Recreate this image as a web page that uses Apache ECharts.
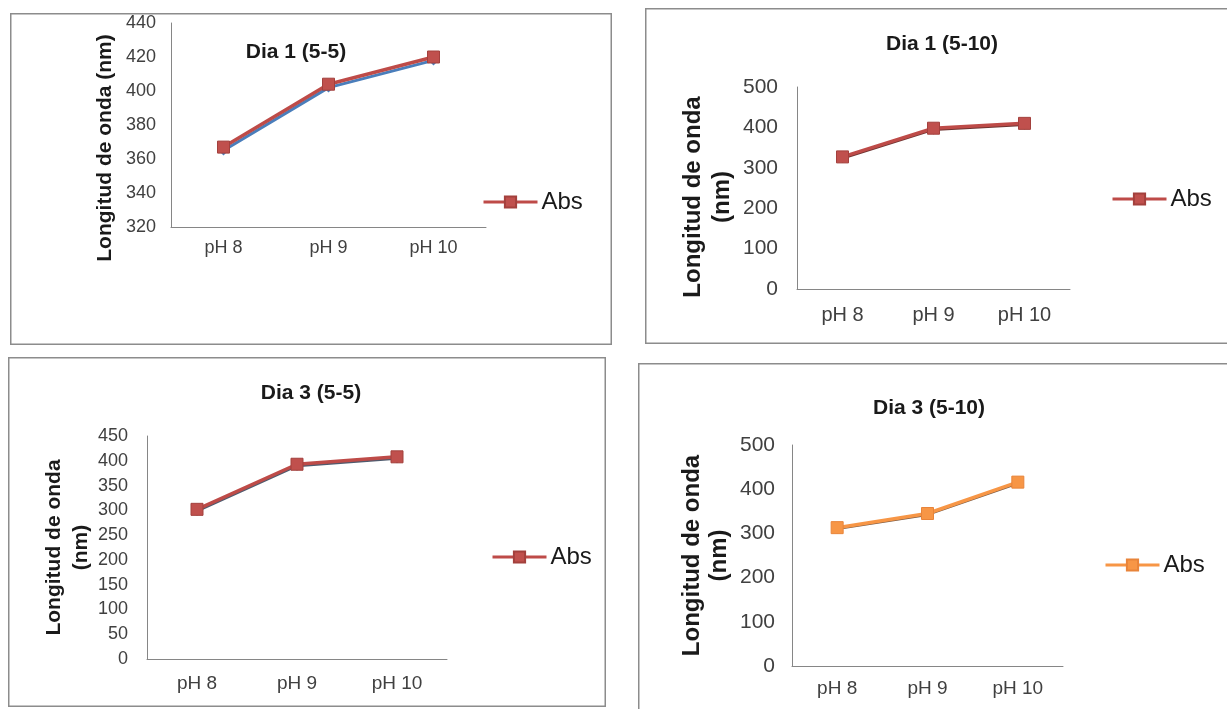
<!DOCTYPE html>
<html>
<head>
<meta charset="utf-8">
<script src="https://cdn.jsdelivr.net/npm/echarts@6/dist/echarts.min.js"></script>
<style>
  html, body { margin: 0; padding: 0; background: #fff; }
  body { width: 1227px; height: 709px; position: relative; overflow: hidden; }
  .panel { position: absolute; }
</style>
</head>
<body>
<div id="p1" class="panel" style="left:10px;top:13px;width:602px;height:332px;"></div>
<div id="p2" class="panel" style="left:645px;top:8px;width:600px;height:336px;"></div>
<div id="p3" class="panel" style="left:8px;top:357px;width:598px;height:350px;"></div>
<div id="p4" class="panel" style="left:638px;top:363px;width:600px;height:360px;"></div>
<script>
// ---- data ----
const categories = ['pH 8', 'pH 9', 'pH 10'];
const seriesName = 'Abs';

const titles = ['Dia 1 (5-5)', 'Dia 1 (5-10)', 'Dia 3 (5-5)', 'Dia 3 (5-10)'];

const dia1_55 = [367, 404, 420];
const dia1_55_under = [365, 402, 418];
const dia1_510 = [327, 398, 410];
const dia1_510_under = [324, 395, 407];
const dia3_55 = [302, 393, 408];
const dia3_55_under = [299, 390, 405];
const dia3_510 = [313, 345, 416];
const dia3_510_under = [311, 343, 414];

const yTicks1 = [320, 340, 360, 380, 400, 420, 440];
const yTicks2 = [0, 100, 200, 300, 400, 500];
const yTicks3 = [0, 50, 100, 150, 200, 250, 300, 350, 400, 450];
const yTicks4 = [0, 100, 200, 300, 400, 500];

const yName1 = 'Longitud de onda (nm)';
const yName2 = 'Longitud de onda\n(nm)';

// ---- styling / layout ----
const FONT = '"Liberation Sans", Arial, sans-serif';
const RED = { line: '#BE4B48', fill: '#C0504D', border: '#A3403D' };
const ORANGE = { line: '#F79646', fill: '#F79646', border: '#E8843A' };

function build(el, cfg) {
  const chart = echarts.init(document.getElementById(el), null, { renderer: 'canvas' });
  const w = chart.getWidth(), h = chart.getHeight();
  const ticks = cfg.ticks;
  const option = {
    animation: false,
    textStyle: { fontFamily: FONT },
    graphic: [{
      type: 'rect',
      shape: { x: 0.75, y: 0.75, width: w - 1.5, height: h - 1.5 },
      style: { fill: 'none', stroke: '#8c8c8c', lineWidth: 1.5 },
      silent: true
    }],
    title: {
      text: cfg.title,
      left: cfg.titleX,
      top: cfg.titleY,
      textAlign: 'center',
      padding: 0,
      textStyle: { fontFamily: FONT, fontSize: 21, fontWeight: 'bold', color: '#1a1a1a' }
    },
    legend: {
      data: [seriesName],
      left: cfg.legendX,
      top: cfg.legendY,
      padding: 0,
      itemWidth: 54,
      itemHeight: 14,
      itemGap: 4,
      lineStyle: { width: 3 },
      textStyle: { fontFamily: FONT, fontSize: 24, color: '#1a1a1a', padding: [0, 0, 0, -1] }
    },
    grid: {
      left: cfg.grid[0], top: cfg.grid[1], width: cfg.grid[2], height: cfg.grid[3],
      containLabel: false, outerBoundsMode: 'none'
    },
    xAxis: {
      type: 'category',
      data: categories,
      boundaryGap: true,
      axisLine: { lineStyle: { color: '#868686', width: 1 } },
      axisTick: { show: false },
      axisLabel: { fontFamily: FONT, fontSize: cfg.xFont, color: '#404040', margin: cfg.xMargin },
      splitLine: { show: false }
    },
    yAxis: {
      type: 'value',
      min: ticks[0],
      max: ticks[ticks.length - 1],
      interval: ticks[1] - ticks[0],
      axisLine: { show: true, lineStyle: { color: '#868686', width: 1 } },
      axisTick: { show: false },
      splitLine: { show: false },
      axisLabel: { fontFamily: FONT, fontSize: cfg.yFont, color: '#404040', margin: cfg.yMargin },
      name: cfg.yName,
      nameLocation: 'middle',
      nameRotate: 90,
      nameGap: cfg.nameGap,
      nameMoveOverlap: false,
      nameTextStyle: {
        fontFamily: FONT, fontSize: cfg.nameFont, fontWeight: 'bold', color: '#1a1a1a',
        lineHeight: cfg.nameLH, padding: cfg.namePad || 0
      }
    },
    series: [
      {
        name: 'under',
        type: 'line',
        data: cfg.under,
        symbol: 'diamond',
        symbolSize: 10,
        lineStyle: { color: cfg.underColor, width: 3 },
        itemStyle: { color: cfg.underColor },
        z: 1,
        silent: true
      },
      {
        name: seriesName,
        type: 'line',
        data: cfg.data,
        symbol: 'rect',
        symbolSize: 12,
        lineStyle: { color: cfg.color.line, width: 3.5 },
        itemStyle: { color: cfg.color.fill, borderColor: cfg.color.border, borderWidth: 1 },
        z: 3
      }
    ]
  };
  chart.setOption(option);
}

build('p1', {
  title: titles[0], titleX: 286, titleY: 29,
  legendX: 472, legendY: 177,
  grid: [161, 10, 315, 204],
  ticks: yTicks1, yFont: 18, yMargin: 15, xFont: 18, xMargin: 12,
  yName: yName1, nameFont: 21, nameLH: 24, nameGap: 54, namePad: [0, 46, 0, 0],
  data: dia1_55, under: dia1_55_under, underColor: '#4A7EBB', color: RED
});
build('p2', {
  title: titles[1], titleX: 297, titleY: 26,
  legendX: 466, legendY: 179,
  grid: [152, 79, 273, 202],
  ticks: yTicks2, yFont: 21, yMargin: 19, xFont: 20, xMargin: 16,
  yName: yName2, nameFont: 24, nameLH: 29, nameGap: 60, namePad: [0, 18, 0, 0],
  data: dia1_510, under: dia1_510_under, underColor: '#6E3331', color: RED
});
build('p3', {
  title: titles[2], titleX: 303, titleY: 26,
  legendX: 483, legendY: 188,
  grid: [139, 79, 300, 223],
  ticks: yTicks3, yFont: 18, yMargin: 19, xFont: 19, xMargin: 15,
  yName: yName2, nameFont: 21, nameLH: 27, nameGap: 52,
  data: dia3_55, under: dia3_55_under, underColor: '#4F5B6E', color: RED
});
build('p4', {
  title: titles[3], titleX: 291, titleY: 35,
  legendX: 466, legendY: 190,
  grid: [154, 82, 271, 221],
  ticks: yTicks4, yFont: 21, yMargin: 17, xFont: 19, xMargin: 13,
  yName: yName2, nameFont: 24, nameLH: 27, nameGap: 59,
  data: dia3_510, under: dia3_510_under, underColor: '#7A5A44', color: ORANGE
});
</script>
</body>
</html>
